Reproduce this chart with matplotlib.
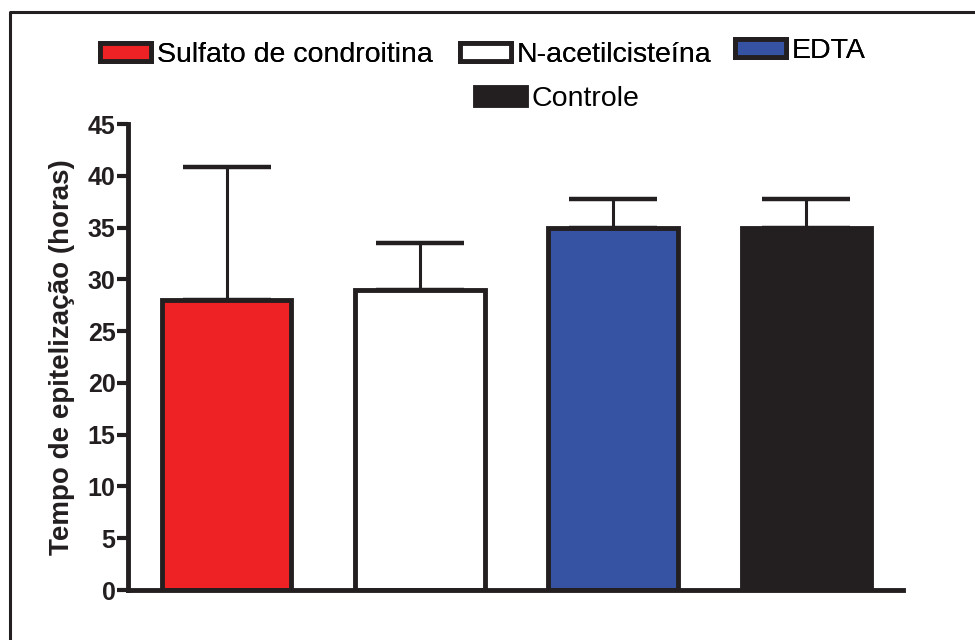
import matplotlib
matplotlib.use("Agg")
import matplotlib.pyplot as plt
from matplotlib.patches import Patch
from matplotlib.lines import Line2D

categories = ["Sulfato de condroitina", "N-acetilcisteína", "EDTA", "Controle"]
means = [28, 29, 35, 35]
errors = [12.8, 4.5, 2.8, 2.8]
colors = ["#EE2124", "#FFFFFF", "#3653A3", "#231F20"]
yticks = [0, 5, 10, 15, 20, 25, 30, 35, 40, 45]
ylabel = "Tempo de epitelização (horas)"

ink = "#231F20"
plt.rcParams['font.family'] = ['Liberation Sans', 'DejaVu Sans']

fig = plt.figure(figsize=(9.75, 6.4), dpi=100)
ax = fig.add_axes([128/975, 1 - 590/640, (903-128)/975, (590-124)/640])

x = list(range(len(categories)))
ax.bar(x, means, width=0.67, color=colors, edgecolor=ink, linewidth=3.5, zorder=2)
ax.errorbar(x, means, yerr=[[0]*len(means), errors], fmt='none', ecolor=ink,
            elinewidth=2.2, capsize=32, capthick=3.2, zorder=1)

ax.set_xlim(-0.51, 3.50)
ax.set_ylim(0, 45)
ax.set_yticks(yticks)
ax.set_yticklabels([str(t) for t in yticks], fontsize=18, fontweight='bold', color=ink)
ax.set_xticks([])
ax.set_ylabel(ylabel, fontsize=20, fontweight='bold', color=ink, labelpad=9)
ax.tick_params(axis='y', direction='out', length=8, width=3, color=ink, pad=1)
for s in ['top', 'right']:
    ax.spines[s].set_visible(False)
for s in ['left', 'bottom']:
    ax.spines[s].set_linewidth(3.5)
    ax.spines[s].set_color(ink)

# legend entries placed individually (handle left x, centre y in pixels)
entry_pos = [(100, 55), (460, 55), (735, 51), (475, 99)]
legs = []
for c, lab, (px, py) in zip(colors, categories, entry_pos):
    h = Patch(facecolor=c, edgecolor=ink, linewidth=3.5)
    leg = fig.legend([h], [lab], loc='center left',
                     bbox_to_anchor=(px/975, 1 - py/640), frameon=False,
                     fontsize=20.5, handlelength=1.8, handleheight=0.55,
                     handletextpad=0.2, borderpad=0, borderaxespad=0)
    legs.append(leg)
for leg in legs[:-1]:
    fig.add_artist(leg)

# figure frame (top and left)
fig.add_artist(Line2D([10/975, 10/975, 1.0], [0.0, 1 - 12/640, 1 - 12/640],
                      transform=fig.transFigure, color=ink, linewidth=2.2))

fig.savefig("out.png", dpi=100)
